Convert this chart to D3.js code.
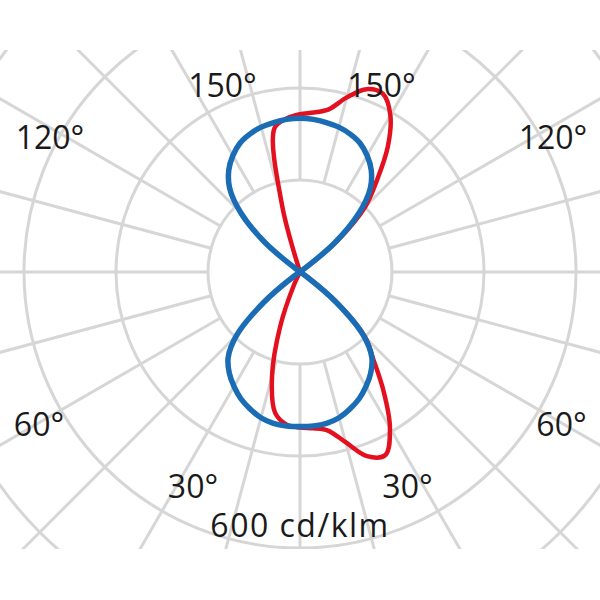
<!DOCTYPE html>
<html><head><meta charset="utf-8">
<script src="https://cdn.jsdelivr.net/npm/d3@7"></script>
<style>body{margin:0;background:#fff}svg{display:block}text{font-family:"Open Sans",sans-serif}</style>
</head><body><svg width="600" height="600"></svg>
<script>
// Gamma angles (0 = nadir, 180 = zenith), step 5°
const gammas = d3.range(0, 181, 5);
// C0 / C180 plane (blue) in cd/klm
const c0 = [336,336,334,328,317,304,287,268,243,195,104,17,0, 0,0,0,0,0,0,0,0,0,0,0,0, 0,98,182,238,270,292,309,319,326,330,333,334];
const c180 = [336,336,334,328,317,304,287,268,243,195,104,17,0, 0,0,0,0,0,0,0,0,0,0,0,0, 0,98,182,238,270,292,309,319,326,330,333,334];
// C90 / C270 plane (red) in cd/klm
const c90 = [338,341,350,383,426,439,391,317,248,200,111,22,0, 0,0,0,0,0,0,0,0,0,0,0,0, 13,106,200,260,333,393,427,423,393,359,348,343];
const c270 = [338,333,311,235,126,30,0, 0,0,0,0,0,0,0,0,0,0,0,0,0,0,0,0,0,0,0,0,0,0,0,0,0,0, 152,318,335,343];
const ringValues = [200, 400, 600, 800];
const spokeAngles = d3.range(0, 360, 15);
const angleLabels = ["30°", "60°", "120°", "150°"];
const scaleLabel = "600 cd/klm";

const svg = d3.select("svg");
const cx = 300, cy = 272;
const rScale = d3.scaleLinear().domain([0, 600]).range([0, 276]);

svg.append("defs").append("clipPath").attr("id", "clip")
  .append("rect").attr("x", 0).attr("y", 50).attr("width", 600).attr("height", 499);

const g = svg.append("g").attr("transform", `translate(${cx},${cy})`);
const grid = g.append("g").attr("clip-path", "url(#clip)")
  .attr("transform", `translate(${-cx},${-cy})`)
  .append("g").attr("transform", `translate(${cx},${cy})`);

const gridColor = "#d6d6d6";
grid.selectAll("circle.ring").data(ringValues).join("circle")
  .attr("class", "ring").attr("r", d => rScale(d))
  .attr("fill", "none").attr("stroke", gridColor).attr("stroke-width", 3);

grid.selectAll("line.spoke").data(spokeAngles).join("line")
  .attr("class", "spoke")
  .attr("x1", d => rScale(ringValues[0]) * Math.sin(d * Math.PI / 180))
  .attr("y1", d => rScale(ringValues[0]) * Math.cos(d * Math.PI / 180))
  .attr("x2", d => rScale(1400) * Math.sin(d * Math.PI / 180))
  .attr("y2", d => rScale(1400) * Math.cos(d * Math.PI / 180))
  .attr("stroke", gridColor).attr("stroke-width", 3);

function planePoints(right, left) {
  const pts = gammas.map((gm, i) => ({a: Math.PI - gm * Math.PI / 180, v: right[i]}));
  for (let i = gammas.length - 2; i >= 1; i--) {
    pts.push({a: Math.PI + gammas[i] * Math.PI / 180, v: left[i]});
  }
  return pts;
}
const line = d3.lineRadial()
  .angle(d => d.a).radius(d => rScale(d.v))
  .curve(d3.curveCatmullRomClosed.alpha(0.5));

g.append("path").datum(planePoints(c90, c270)).attr("d", line)
  .attr("fill", "none").attr("stroke", "#e3101f").attr("stroke-width", 4.5).attr("stroke-linejoin", "round");
g.append("path").datum(planePoints(c0, c180)).attr("d", line)
  .attr("fill", "none").attr("stroke", "#1a6db5").attr("stroke-width", 5.5).attr("stroke-linejoin", "round");

// angle labels
const labelOffsets = {
  "30°":  {l: -107, r: 107.5, y: 226},
  "60°":  {l: -261, r: 261.5, y: 164},
  "120°": {l: -250, r: 253, y: -123.5},
  "150°": {l: -77.5, r: 81.5, y: -175.5}
};
const labelData = [];
angleLabels.forEach(t => {
  labelData.push({t, x: labelOffsets[t].l, y: labelOffsets[t].y});
  labelData.push({t, x: labelOffsets[t].r, y: labelOffsets[t].y});
});
g.selectAll("text.alab").data(labelData).join("text")
  .attr("class", "alab").attr("x", d => d.x).attr("y", d => d.y)
  .attr("text-anchor", "middle").attr("font-size", 32).attr("fill", "#1a1a1a")
  .text(d => d.t);

g.append("text").attr("x", 0).attr("y", 265)
  .attr("text-anchor", "middle").attr("font-size", 32).attr("fill", "#1a1a1a")
  .attr("letter-spacing", 1.5)
  .text(scaleLabel);
</script>
</body></html>
